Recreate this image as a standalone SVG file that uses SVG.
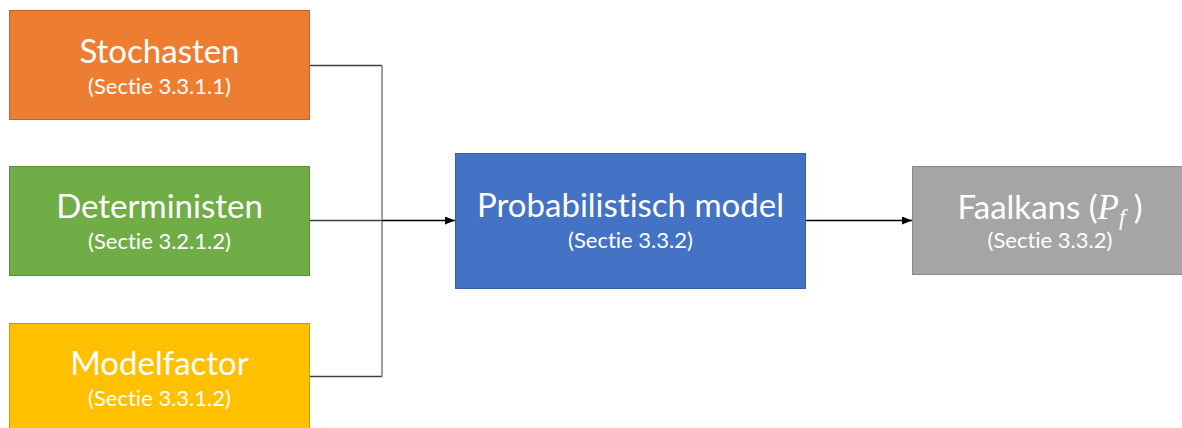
<svg xmlns="http://www.w3.org/2000/svg" width="1182" height="428" viewBox="0 0 1182 428">
  <style>
    text { font-variant-ligatures: none; font-feature-settings: "liga" 0, "clig" 0; }
    .title { font-family: Lato, "Open Sans", sans-serif; font-size: 33px; fill: #ffffff; text-anchor: middle; }
    .sub { font-family: Lato, "Open Sans", sans-serif; font-size: 22px; fill: #ffffff; text-anchor: middle; }
    .math { font-family: "Liberation Serif", "DejaVu Serif", serif; font-style: italic; }
    .wire { fill: none; stroke: #7f7f7f; stroke-width: 1.5; }
    .wire-dark { fill: none; stroke: #404040; stroke-width: 1.3; }
    .arrow { fill: none; stroke: #000000; stroke-width: 1.3; marker-end: url(#head); }
  </style>
  <defs>
    <marker id="head" markerWidth="10" markerHeight="8" refX="10" refY="4" orient="auto" markerUnits="userSpaceOnUse">
      <path d="M0,0 L10,4 L0,8 Z" fill="#000000"/>
    </marker>
  </defs>

  <rect width="1182" height="428" fill="#ffffff"/>

  <!-- connectors -->
  <g id="connectors">
    <path class="wire-dark" d="M310,65.5 H382"/>
    <path class="wire-dark" d="M310,220.5 H382"/>
    <path class="wire-dark" d="M310,376.5 H382"/>
    <path class="wire" d="M382,65 V377"/>
    <path class="arrow" d="M382,220.5 H455"/>
    <path class="arrow" d="M806,220.5 H912"/>
  </g>

  <!-- input nodes -->
  <g id="stochasten">
    <rect x="9.5" y="10.5" width="300" height="109" fill="#ED7D31" stroke="#C0622A" stroke-width="1"/>
    <text class="title" x="159.5" y="63">Stochasten</text>
    <text class="sub" x="159.5" y="94">(Sectie 3.3.1.1)</text>
  </g>

  <g id="deterministen">
    <rect x="9.5" y="166.5" width="300" height="109" fill="#70AD47" stroke="#5A8C39" stroke-width="1"/>
    <text class="title" x="159.5" y="218">Deterministen</text>
    <text class="sub" x="159.5" y="249">(Sectie 3.2.1.2)</text>
  </g>

  <g id="modelfactor">
    <rect x="9.5" y="323.5" width="300" height="109" fill="#FFC000" stroke="#C99A10" stroke-width="1"/>
    <text class="title" x="159.5" y="375">Modelfactor</text>
    <text class="sub" x="159.5" y="406">(Sectie 3.3.1.2)</text>
  </g>

  <!-- model node -->
  <g id="probabilistisch-model">
    <rect x="455.5" y="153.5" width="350" height="135" fill="#4472C4" stroke="#3A5F9F" stroke-width="1"/>
    <text class="title" x="630.5" y="217">Probabilistisch model</text>
    <text class="sub" x="630.5" y="248">(Sectie 3.3.2)</text>
  </g>

  <!-- result node -->
  <g id="faalkans">
    <rect x="912.5" y="166.5" width="280" height="108" fill="#A5A5A5" stroke="#8A8A8A" stroke-width="1"/>
    <text class="title" x="1050" y="219">Faalkans (<tspan class="math" font-size="35px">P</tspan><tspan class="math" font-size="23px" dy="6">f</tspan><tspan dy="-6"> )</tspan></text>
    <text class="sub" x="1050" y="248">(Sectie 3.3.2)</text>
  </g>
</svg>
